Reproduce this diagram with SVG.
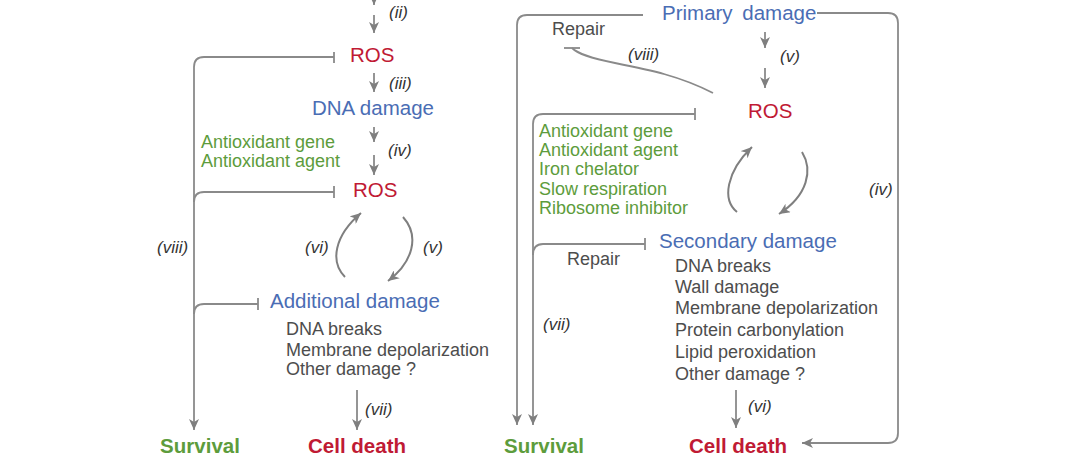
<svg xmlns="http://www.w3.org/2000/svg" width="1080" height="459" viewBox="0 0 1080 459">
<defs>
<marker id="ah" markerUnits="userSpaceOnUse" markerWidth="12" markerHeight="10" refX="11" refY="5" orient="auto">
<path d="M0,0 L11,5 L0,10 L3,5 z" fill="#7f7f7f"/>
</marker>
<style>
.ln{fill:none;stroke:#8a8a8a;stroke-width:1.8}
.arc{fill:none;stroke:#7f7f7f;stroke-width:2}
.t{font-family:"Liberation Sans",Arial,sans-serif}
.red{fill:#c01a34;font-size:20.5px}
.blue{fill:#4a6db4;font-size:20.5px}
.green{fill:#5d9c3c;font-size:18px}
.gray{fill:#4d4d4d;font-size:18px}
.lab{fill:#333;font-size:17px;font-style:italic}
.bg{font-weight:bold;font-size:20.5px}
</style>
</defs>
<rect width="1080" height="459" fill="#fff"/>

<g id="connectors">
<!-- left panel -->
<line class="ln" x1="374" y1="-6" x2="374" y2="5" marker-end="url(#ah)"/>
<line class="ln" x1="374" y1="15" x2="374" y2="33" marker-end="url(#ah)"/>
<line class="ln" x1="374" y1="73" x2="374" y2="92" marker-end="url(#ah)"/>
<line class="ln" x1="374" y1="127" x2="374" y2="142" marker-end="url(#ah)"/>
<line class="ln" x1="374" y1="155" x2="374" y2="175" marker-end="url(#ah)"/>
<path class="ln" d="M334,57 H204 Q194,57 194,67 V430" marker-end="url(#ah)"/>
<line class="ln" x1="334" y1="52" x2="334" y2="63"/>
<path class="ln" d="M194,202 Q194,192 204,192 H334"/>
<line class="ln" x1="334" y1="186" x2="334" y2="198"/>
<path class="ln" d="M194,314 Q194,304 204,304 H258"/>
<line class="ln" x1="258" y1="298" x2="258" y2="310"/>
<path class="arc" d="M345,277 C330,262 334,236 361,213" marker-end="url(#ah)"/>
<path class="arc" d="M403,217 C420,236 413,262 388,281" marker-end="url(#ah)"/>
<line class="ln" x1="357" y1="390" x2="357" y2="430" marker-end="url(#ah)"/>
<!-- right panel -->
<path class="ln" d="M643,15 H527 Q517,15 517,25 V425" marker-end="url(#ah)"/>
<path class="ln" d="M817,13 H888 Q898,13 898,23 V433 Q898,443 888,443 H802" marker-end="url(#ah)"/>
<line class="ln" x1="765" y1="32" x2="765" y2="48" marker-end="url(#ah)"/>
<line class="ln" x1="765" y1="68" x2="765" y2="88" marker-end="url(#ah)"/>
<path class="ln" d="M713,93 C680,76 650,70 615,63 C590,58 578,54 572,48"/>
<line class="ln" x1="564" y1="48" x2="580" y2="48"/>
<path class="ln" d="M695,114 H543 Q533,114 533,124 V425" marker-end="url(#ah)"/>
<line class="ln" x1="695" y1="108" x2="695" y2="120"/>
<path class="ln" d="M533,255 Q533,244 543,244 H645"/>
<line class="ln" x1="645" y1="238" x2="645" y2="250"/>
<path class="arc" d="M737,212 C722,200 726,172 752,147" marker-end="url(#ah)"/>
<path class="arc" d="M802,152 C813,170 808,195 779,214" marker-end="url(#ah)"/>
<line class="ln" x1="736" y1="390" x2="736" y2="428" marker-end="url(#ah)"/>
</g>

<g id="left-ros1"><text class="t red" x="350" y="62">ROS</text></g>
<g id="left-dna"><text class="t blue" x="312" y="115">DNA damage</text></g>
<g id="left-antiox"><text class="t green" x="201" y="148">Antioxidant gene</text><text class="t green" x="201" y="167">Antioxidant agent</text></g>
<g id="left-ros2"><text class="t red" x="353" y="197">ROS</text></g>
<g id="left-additional"><text class="t blue" x="270" y="308">Additional damage</text>
<text class="t gray" x="286" y="335">DNA breaks</text>
<text class="t gray" x="286" y="356">Membrane depolarization</text>
<text class="t gray" x="286" y="375">Other damage ?</text></g>
<g id="left-survival"><text class="t bg" x="200" y="453" text-anchor="middle" fill="#5d9c3c">Survival</text></g>
<g id="left-death"><text class="t bg" x="357" y="453" text-anchor="middle" fill="#c01a34">Cell death</text></g>
<g id="left-labels">
<text class="t lab" x="389" y="18">(ii)</text>
<text class="t lab" x="389" y="89">(iii)</text>
<text class="t lab" x="388" y="156">(iv)</text>
<text class="t lab" x="305" y="253">(vi)</text>
<text class="t lab" x="423" y="253">(v)</text>
<text class="t lab" x="157" y="253">(viii)</text>
<text class="t lab" x="365" y="415">(vii)</text>
</g>

<g id="right-primary"><text class="t blue" x="662" y="20" word-spacing="4">Primary damage</text></g>
<g id="right-repair1"><text class="t gray" x="552" y="35">Repair</text></g>
<g id="right-ros"><text class="t red" x="748" y="118">ROS</text></g>
<g id="right-green"><text class="t green" x="539" y="137">Antioxidant gene</text>
<text class="t green" x="539" y="156">Antioxidant agent</text>
<text class="t green" x="539" y="175">Iron chelator</text>
<text class="t green" x="539" y="195">Slow respiration</text>
<text class="t green" x="539" y="214">Ribosome inhibitor</text></g>
<g id="right-secondary"><text class="t blue" x="659" y="248">Secondary damage</text>
<text class="t gray" x="675" y="272">DNA breaks</text>
<text class="t gray" x="675" y="293">Wall damage</text>
<text class="t gray" x="675" y="314">Membrane depolarization</text>
<text class="t gray" x="675" y="336">Protein carbonylation</text>
<text class="t gray" x="675" y="358">Lipid peroxidation</text>
<text class="t gray" x="675" y="380">Other damage ?</text></g>
<g id="right-repair2"><text class="t gray" x="567" y="265">Repair</text></g>
<g id="right-survival"><text class="t bg" x="544" y="453" text-anchor="middle" fill="#5d9c3c">Survival</text></g>
<g id="right-death"><text class="t bg" x="738" y="453" text-anchor="middle" fill="#c01a34">Cell death</text></g>
<g id="right-labels">
<text class="t lab" x="628" y="60">(viii)</text>
<text class="t lab" x="780" y="62">(v)</text>
<text class="t lab" x="869" y="195">(iv)</text>
<text class="t lab" x="543" y="330">(vii)</text>
<text class="t lab" x="748" y="412">(vi)</text>
</g>
</svg>
